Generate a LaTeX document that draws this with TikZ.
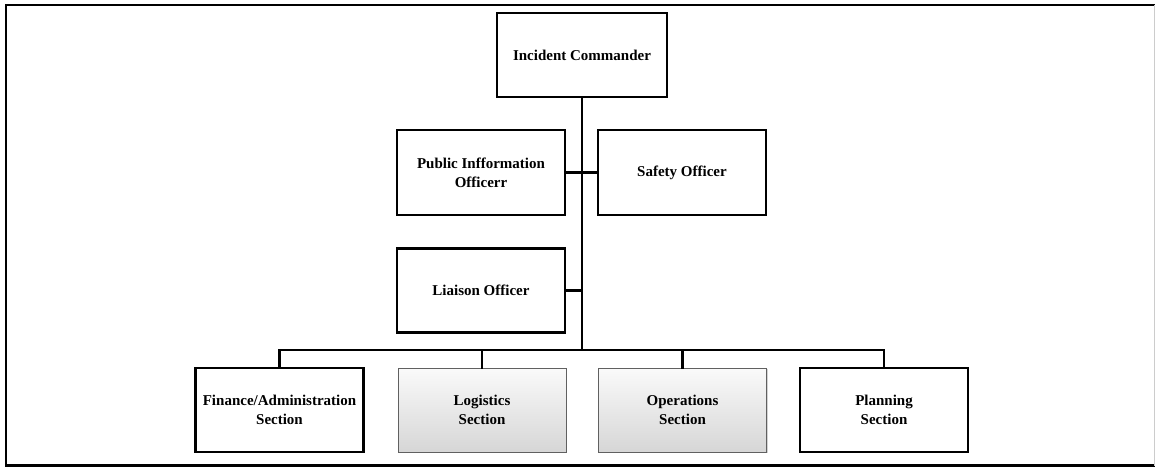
\documentclass[tikz,border=0pt]{standalone}
\usepackage{fontspec}
\setmainfont{Liberation Serif}
\usetikzlibrary{shadows}

\begin{document}
\begin{tikzpicture}
    [x=1pt, y=-1pt,
    line cap=rect,
    line join=miter,
    link/.style={line width=2.5pt},
    post/.style={draw, line width=2.5pt, minimum width=168pt, minimum height=84pt,
        align=center, font=\fontsize{15}{19}\selectfont\bfseries},
    graypost/.style={post, line width=0.9pt, draw=gray!75!black,
        top color=gray!4, bottom color=gray!32,
        drop shadow={shadow xshift=1.2pt, shadow yshift=-1.2pt, opacity=0.35}}]

    \useasboundingbox (0,0) rectangle (1155,468);
    \draw[line width=2.2pt, line cap=butt] (1155,5) -- (6,5) -- (6,465.5) -- (1155,465.5);
    \draw[gray!40, line width=0.6pt] (1154,5) -- (1154,465.5);

    % Stab
    \node[post, minimum width=170pt] (ic)      at (582,  55) {Incident Commander};
    \node[post, minimum height=85pt] (pio)     at (481, 172.5) {Public Infformation\\Officerr};
    \node[post, minimum height=85pt] (safety)  at (682, 172.5) {Safety Officer};
    \node[post]                      (liaison) at (481, 290.5) {Liaison Officer};

    % Sektionen
    \node[post]     (finance)    at (279.5, 410) {Finance/Administration\\Section};
    \node[graypost] (logistics)  at (482,   410) {Logistics\\Section};
    \node[graypost] (operations) at (682.5, 410) {Operations\\Section};
    \node[post]     (planning)   at (884,   410) {Planning\\Section};

    \coordinate (bus) at (582, 350);

    \draw[link] (ic) -- (bus);
    \draw[link] (pio) -- (safety);
    \draw[link] (liaison.east) -- (liaison.east -| bus);
    \draw[link] (finance.north) -- (finance.north |- bus) -- (planning.north |- bus) -- (planning.north);
    \draw[link] (logistics.north) -- (logistics.north |- bus);
    \draw[link] (operations.north) -- (operations.north |- bus);
\end{tikzpicture}
\end{document}
